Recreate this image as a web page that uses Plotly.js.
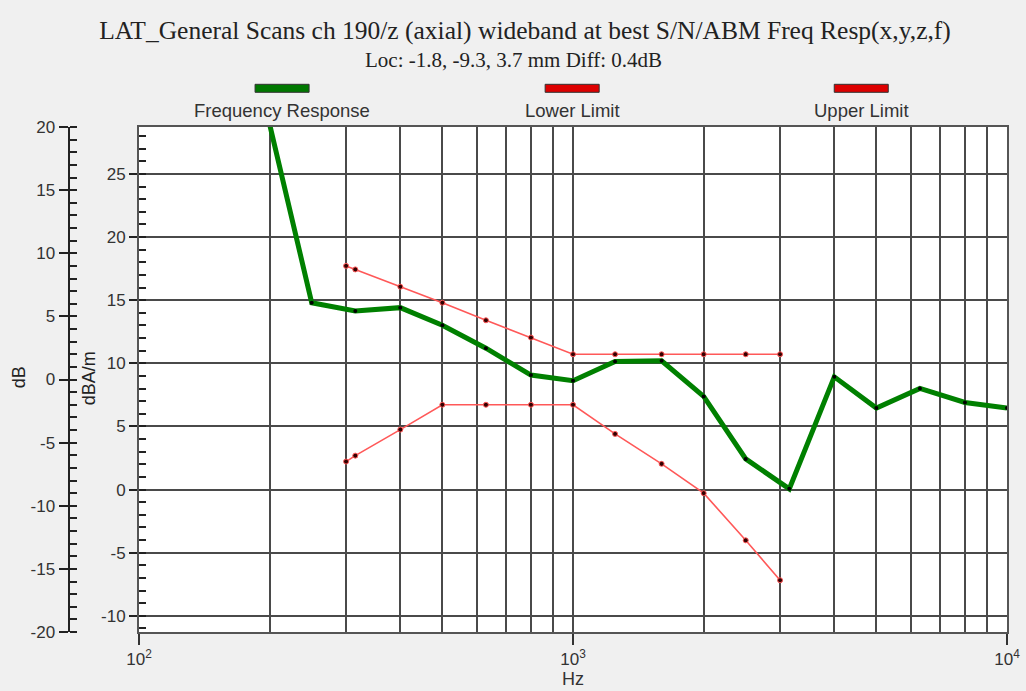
<!DOCTYPE html>
<html><head><meta charset="utf-8">
<script src="https://cdn.plot.ly/plotly-3.0.1.min.js"></script>
<style>html,body{margin:0;padding:0;background:#f0f0f0;overflow:hidden}</style>
</head><body><div id="chart" style="width:1026px;height:691px"></div>
<script>
// ---- data (dB) ----
const respFreq = [200, 250, 315, 400, 500, 630, 800, 1000, 1250, 1600, 2000, 2500, 3150, 4000, 5000, 6300, 8000, 10000];
const respDb   = [20.2, 6.08, 5.43, 5.69, 4.30, 2.48, 0.35, -0.10, 1.42, 1.48, -1.34, -6.29, -8.66, 0.21, -2.26, -0.71, -1.82, -2.26];
const limitFreq = [300, 315, 400, 500, 630, 800, 1000, 1250, 1600, 2000, 2500, 3000];
const lowerDb   = [-6.5, -6.03, -3.97, -2.0, -2.0, -2.0, -2.0, -4.31, -6.68, -9.0, -12.74, -15.9];
const upperDb   = [9.0, 8.72, 7.35, 6.08, 4.69, 3.32, 2.0, 2.0, 2.0, 2.0, 2.0, 2.0];
const seriesNames = ['Frequency Response', 'Lower Limit', 'Upper Limit'];
const xTickVals = [100, 1000, 10000];
const xTickText = ['10<sup>2</sup>', '10<sup>3</sup>', '10<sup>4</sup>'];
const xMinorVals = [200, 300, 400, 500, 600, 700, 800, 900, 2000, 3000, 4000, 5000, 6000, 7000, 8000, 9000];
const dbTickVals = [-20, -15, -10, -5, 0, 5, 10, 15, 20];
const dbTickText = ['-20', '-15', '-10', '-5', '0', '5', '10', '15', '20'];
const dbamTickVals = [-10, -5, 0, 5, 10, 15, 20, 25];
const dbamTickText = ['-10', '-5', '0', '5', '10', '15', '20', '25'];
const titleText = 'LAT_General Scans ch 190/z (axial) wideband at best S/N/ABM Freq Resp(x,y,z,f)';
const subtitleText = 'Loc: -1.8, -9.3, 3.7 mm Diff: 0.4dB';

// ---- styles / layout geometry ----
const W = 1026, H = 691, L = 50, R = 19.3, T = 126.7, B = 59.3;
const px = v => (v - L) / (W - L - R);
const py = v => (H - B - v) / (H - T - B);
const green = '#008000', red = '#ff5858';
const sans = 'Liberation Sans, Arial, sans-serif';
const serif = 'Liberation Serif, Times New Roman, serif';
const gridC = '#4a4a4a';
const tickFont = {family: sans, size: 17, color: '#333'};

const traces = [
  // empty trace so the dBA/m base axis (with the grid) is drawn
  {x: [], y: [], xaxis: 'x', yaxis: 'y', mode: 'lines', showlegend: false, hoverinfo: 'skip'},
  {x: respFreq, y: respDb, name: seriesNames[0], mode: 'lines+markers', xaxis: 'x', yaxis: 'y2',
   line: {color: green, width: 5}, marker: {color: '#000', size: 4}},
  {x: limitFreq, y: lowerDb, name: seriesNames[1], mode: 'lines+markers', xaxis: 'x', yaxis: 'y2',
   line: {color: red, width: 1.6}, marker: {color: '#300', size: 5, line: {color: red, width: 1}}},
  {x: limitFreq, y: upperDb, name: seriesNames[2], mode: 'lines+markers', xaxis: 'x', yaxis: 'y2',
   line: {color: red, width: 1.6}, marker: {color: '#300', size: 5, line: {color: red, width: 1}}}
];

const legendCenters = [282, 572, 861];
const legendFill = ['#007800', '#dd0000', '#dd0000'];
const shapes = legendCenters.map((c, i) => ({
  type: 'rect', xref: 'paper', yref: 'paper',
  x0: px(c - 27), x1: px(c + 27), y0: py(92), y1: py(84),
  fillcolor: legendFill[i], line: {color: '#333', width: 1}
}));
const annotations = legendCenters.map((c, i) => ({
  xref: 'paper', yref: 'paper', x: px(c), y: py(110), text: seriesNames[i],
  showarrow: false, xanchor: 'center', yanchor: 'middle',
  font: {family: sans, size: 18.5, color: '#333'}
}));
annotations.push({xref: 'paper', yref: 'paper', x: px(513), y: py(60), text: subtitleText,
  showarrow: false, xanchor: 'center', yanchor: 'middle', font: {family: serif, size: 21, color: '#222'}});
annotations.push({xref: 'paper', yref: 'paper', x: px(19), y: py(377), text: 'dB', textangle: -90,
  showarrow: false, xanchor: 'center', yanchor: 'middle', font: {family: sans, size: 18, color: '#222'}});
annotations.push({xref: 'paper', yref: 'paper', x: px(89), y: py(378), text: 'dBA/m', textangle: -90,
  showarrow: false, xanchor: 'center', yanchor: 'middle', font: {family: sans, size: 18, color: '#222'}});

const layout = {
  width: W, height: H,
  margin: {l: L, r: R, t: T, b: B},
  paper_bgcolor: '#f0f0f0', plot_bgcolor: '#ffffff',
  showlegend: false,
  title: {text: titleText, xref: 'container', yref: 'container', x: 525 / W, y: 1 - 30 / H,
    xanchor: 'center', yanchor: 'middle', font: {family: serif, size: 25.5, color: '#222'}},
  xaxis: {type: 'log', range: [2, 4], domain: [px(139), 1], anchor: 'y',
    tickmode: 'array', tickvals: xTickVals, ticktext: xTickText,
    ticks: 'outside', ticklen: 11, tickwidth: 2, tickcolor: '#333',
    showgrid: true, gridcolor: gridC, gridwidth: 2,
    minor: {tickmode: 'array', tickvals: xMinorVals, showgrid: true, gridcolor: gridC, gridwidth: 2, ticks: ''},
    showline: true, mirror: true, linecolor: '#555', linewidth: 2, zeroline: false,
    tickfont: tickFont,
    title: {text: 'Hz', standoff: 4, font: {family: sans, size: 18, color: '#333'}}},
  // dBA/m axis, at the plot's left edge, carries the grid
  yaxis: {range: [-11.28, 28.72], autorange: false, anchor: 'x', side: 'left',
    tickmode: 'array', tickvals: dbamTickVals, ticktext: dbamTickText,
    ticks: 'outside', ticklen: 8, tickwidth: 2, tickcolor: '#222',
    minor: {tickmode: 'linear', dtick: 1, tick0: 0, ticks: 'inside', ticklen: 7, tickwidth: 2, tickcolor: '#222'},
    showgrid: true, gridcolor: gridC, gridwidth: 2,
    zeroline: false, showline: true, mirror: true, linecolor: '#555', linewidth: 2,
    tickfont: tickFont},
  // dB axis, free-standing further left; data are in dB
  yaxis2: {range: [-20, 20], autorange: false, overlaying: 'y', anchor: 'free', position: px(68.5), side: 'left',
    tickmode: 'array', tickvals: dbTickVals, ticktext: dbTickText,
    ticks: 'outside', ticklen: 9, tickwidth: 2, tickcolor: '#222',
    minor: {tickmode: 'linear', dtick: 1, tick0: 0, ticks: 'inside', ticklen: 7, tickwidth: 2, tickcolor: '#222'},
    showgrid: false, zeroline: false, showline: true, linecolor: '#222', linewidth: 2,
    tickfont: tickFont},
  shapes: shapes,
  annotations: annotations
};

Plotly.newPlot('chart', traces, layout, {displayModeBar: false, staticPlot: true});
</script>
</body></html>
